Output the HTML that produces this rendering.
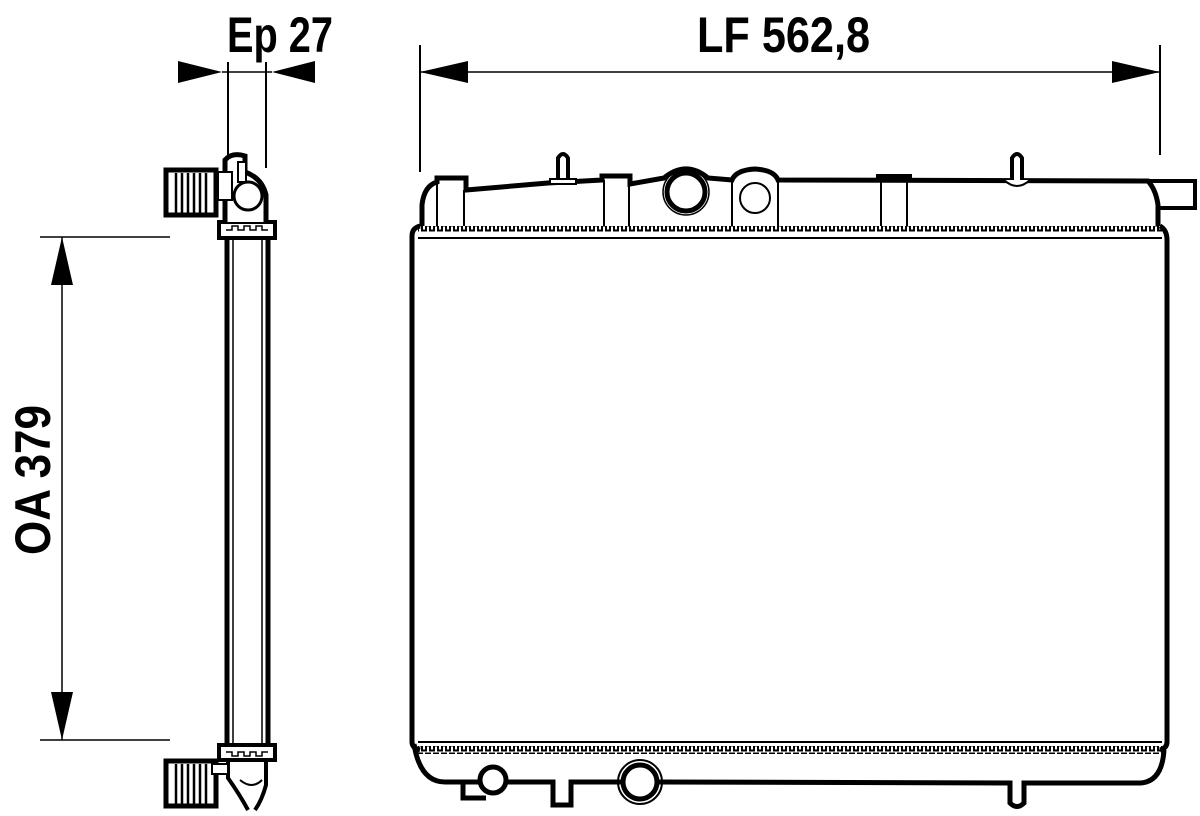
<!DOCTYPE html>
<html><head><meta charset="utf-8"><style>
html,body{margin:0;padding:0;background:#fff;}
svg{display:block}
text{font-family:"Liberation Sans Narrow","Liberation Sans",sans-serif;font-weight:bold;fill:#000}
</style></head><body>
<svg width="1200" height="816" viewBox="0 0 1200 816" xmlns="http://www.w3.org/2000/svg">
<defs>
<pattern id="cren" x="0" y="0" width="8" height="8" patternUnits="userSpaceOnUse">
<path d="M0,6.5 H2 V1.5 H6 V6.5 H8" fill="none" stroke="#000" stroke-width="2"/>
</pattern>
</defs>
<text x="227" y="52" font-size="50" textLength="106" lengthAdjust="spacingAndGlyphs">Ep 27</text>
<text x="697" y="52" font-size="50" textLength="173" lengthAdjust="spacingAndGlyphs">LF 562,8</text>
<text transform="translate(50,555) rotate(-90)" font-size="50" textLength="150" lengthAdjust="spacingAndGlyphs">OA 379</text>

<g stroke="#000" fill="none">
<line x1="228" y1="62" x2="228" y2="168" stroke-width="2"/>
<line x1="266" y1="62" x2="266" y2="168" stroke-width="2"/>
<line x1="222" y1="72" x2="272" y2="72" stroke-width="1.5"/>
<line x1="420" y1="45" x2="420" y2="172" stroke-width="2"/>
<line x1="1160" y1="45" x2="1160" y2="155" stroke-width="2"/>
<line x1="420" y1="72" x2="1160" y2="72" stroke-width="1.5"/>
<line x1="40" y1="237" x2="170" y2="237" stroke-width="1.5"/>
<line x1="40" y1="740" x2="170" y2="740" stroke-width="1.5"/>
<line x1="62" y1="237" x2="62" y2="740" stroke-width="1.5"/>
</g>
<g fill="#000">
<polygon points="178,61 222,72 178,83"/>
<polygon points="315,61 272,72 315,83"/>
<polygon points="420,72 468,61 468,83"/>
<polygon points="1160,72 1112,61 1112,83"/>
<polygon points="62,237 51,285 73,285"/>
<polygon points="62,740 51,692 73,692"/>
</g>

<g stroke="#000" fill="none">
<line x1="227" y1="238" x2="227" y2="745" stroke-width="5"/>
<line x1="268" y1="238" x2="268" y2="745" stroke-width="5"/>
<line x1="233" y1="240" x2="233" y2="743" stroke-width="1.5"/>
<line x1="262" y1="240" x2="262" y2="743" stroke-width="1.5"/>
<path d="M219,238 V222 H275 V238 Z" stroke-width="4" fill="#fff"/>
<path d="M226,230 h6 v-4 h6 v4 h6 v-4 h6 v4 h6 v-4 h6 v4 h6" stroke-width="1.5"/>
<path d="M225,222 V160 Q232,152 245,156 V172 Q262,178 266,195 V222" stroke-width="5" fill="#fff"/>
<circle cx="248" cy="196" r="14" stroke-width="3" fill="#fff"/>
<rect x="238" y="162" width="8" height="20" stroke-width="2" fill="#fff"/>
<rect x="218" y="172" width="14" height="28" stroke-width="2" fill="#fff"/>
<rect x="166" y="170" width="50" height="45" stroke-width="5" fill="#fff"/>
<path d="M176,173 V213 M182,173 V213 M188,173 V213 M194,173 V213 M200,173 V213 M206,173 V213" stroke-width="2.5"/>
<path d="M219,745 V760 H275 V745 Z" stroke-width="4" fill="#fff"/>
<path d="M226,752 h6 v4 h6 v-4 h6 v4 h6 v-4 h6 v4 h6 v-4 h6" stroke-width="1.5"/>
<path d="M228,760 V778 Q240,795 248,810 M266,760 V785 Q262,800 255,810" stroke-width="4"/>
<path d="M240,780 Q252,790 262,780" stroke-width="2"/>
<rect x="166" y="761" width="50" height="45" stroke-width="5" fill="#fff"/>
<rect x="212" y="764" width="16" height="10" stroke-width="2" fill="#fff"/>
<path d="M176,764 V804 M182,764 V804 M188,764 V804 M194,764 V804 M200,764 V804 M206,764 V804" stroke-width="2.5"/>
</g>

<g stroke="#000" fill="none">
<path d="M420,226 Q412,228 412,236 V742 Q412,748 420,750" stroke-width="5"/>
<path d="M1160,226 Q1167,230 1167,240 V742 Q1167,748 1160,750" stroke-width="5"/>
<line x1="418" y1="238" x2="1162" y2="238" stroke-width="2"/>
<line x1="418" y1="742" x2="1162" y2="742" stroke-width="2"/>
<rect x="418" y="224" width="744" height="8" fill="url(#cren)" stroke="none"/>
<rect x="418" y="746" width="744" height="8" fill="url(#cren)" stroke="none"/>
<path d="M422,226 V205 Q424,186 437,182 V178 H466 V190 L548,183 L602,180 V176 H630 V184 L664,178 Q686,160 708,178 L732,180 Q736,170 755,169 Q774,170 778,180 L1148,181 Q1156,190 1158,205 V226" stroke-width="5" fill="#fff"/>
<path d="M1148,181 H1195 V208 H1158" stroke-width="4"/>
<line x1="437" y1="182" x2="437" y2="226" stroke-width="2"/>
<line x1="464" y1="190" x2="464" y2="226" stroke-width="2"/>
<line x1="604" y1="180" x2="604" y2="226" stroke-width="2"/>
<line x1="629" y1="184" x2="629" y2="226" stroke-width="2"/>
<line x1="732" y1="180" x2="732" y2="226" stroke-width="2"/>
<line x1="778" y1="180" x2="778" y2="226" stroke-width="2"/>
<line x1="881" y1="181" x2="881" y2="226" stroke-width="2"/>
<line x1="907" y1="181" x2="907" y2="226" stroke-width="2"/>
<path d="M878,181 V176 H910 V181" stroke-width="4"/>
<circle cx="686" cy="192" r="19" stroke-width="5" fill="#fff"/>
<circle cx="686" cy="192" r="23" stroke-width="1.5"/>
<circle cx="755" cy="198" r="15" stroke-width="2"/>
<path d="M558,180 V158 Q563,150 568,158 V180" stroke-width="4" fill="#fff"/>
<rect x="550" y="179" width="26" height="5" stroke-width="2" fill="#fff"/>
<path d="M1012,180 V158 Q1017,150 1022,158 V180" stroke-width="4" fill="#fff"/>
<path d="M1004,180 Q1017,192 1030,180" stroke-width="2" fill="#fff"/>
<path d="M414,744 Q420,782 445,782 H480 M506,782 H553 V805 H571 V782 H622 M658,782 L1010,783 V803 Q1017,810 1024,803 V783 H1140 Q1162,782 1164,750" stroke-width="5"/>
<path d="M463,782 V798 H486" stroke-width="5"/>
<circle cx="493" cy="780" r="13" stroke-width="5" fill="#fff"/>
<circle cx="640" cy="782" r="17" stroke-width="5" fill="#fff"/>
<circle cx="640" cy="782" r="22" stroke-width="2"/>
</g>
</svg>
</body></html>
